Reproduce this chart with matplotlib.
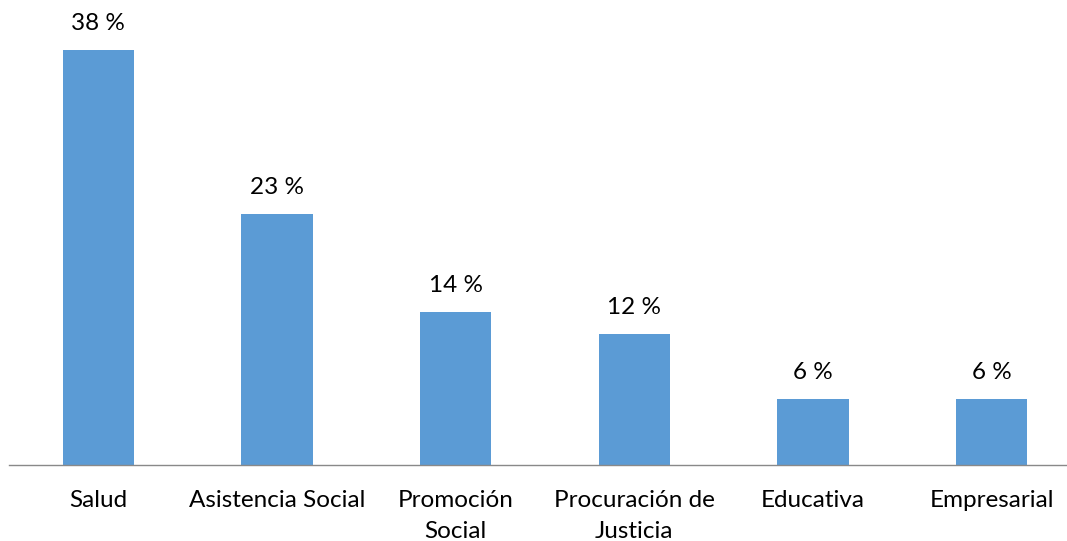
import matplotlib.pyplot as plt

# datos
categorias = ['Salud', 'Asistencia Social', 'Promoción\nSocial',
              'Procuración de\nJusticia', 'Educativa', 'Empresarial']
porcentajes = [38, 23, 14, 12, 6, 6]
etiquetas = ['38 %', '23 %', '14 %', '12 %', '6 %', '6 %']

plt.rcParams['font.family'] = ['Lato', 'DejaVu Sans']

fig = plt.figure(figsize=(10.67, 5.41), dpi=100)
# el eje horizontal sale un poco por la derecha, como en el original
ax = fig.add_axes([9 / 1067, 76.5 / 541, 1072 / 1067, 436 / 541])

x = range(len(categorias))
bars = ax.bar(x, porcentajes, width=0.4, color='#5B9BD5')

for b, txt in zip(bars, etiquetas):
    ax.annotate(txt, (b.get_x() + b.get_width() / 2, b.get_height()),
                xytext=(0, 19), textcoords='offset points',
                ha='center', va='center', fontsize=17.5, color='black')

ax.set_xlim(-0.5, len(categorias) - 0.5)
ax.set_ylim(0, 40)
ax.set_xticks(list(x))
ax.set_xticklabels(categorias, fontsize=17.5, linespacing=1.55)
ax.tick_params(axis='x', length=0, pad=18.5)
ax.set_yticks([])

for s in ['top', 'right', 'left']:
    ax.spines[s].set_visible(False)
ax.spines['bottom'].set_color('#898989')
ax.spines['bottom'].set_linewidth(1.0)

fig.savefig('out.png', dpi=100)
